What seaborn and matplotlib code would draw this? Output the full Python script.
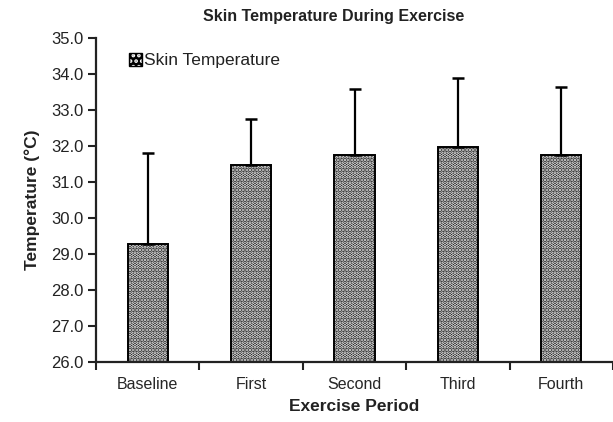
import matplotlib
matplotlib.use("Agg")
import matplotlib.pyplot as plt
from matplotlib.patches import Patch
import seaborn as sns
import pandas as pd

# values
periods = ["Baseline", "First", "Second", "Third", "Fourth"]
mean_temp = [29.27, 31.46, 31.75, 31.96, 31.75]
sd_temp = [2.53, 1.29, 1.83, 1.93, 1.89]
y_ticks = [26.0, 27.0, 28.0, 29.0, 30.0, 31.0, 32.0, 33.0, 34.0, 35.0]

df = pd.DataFrame({"period": periods, "temp": mean_temp, "sd": sd_temp})

sns.set_theme(style="ticks")
plt.rcParams["font.family"] = ["Liberation Sans", "DejaVu Sans"]
plt.rcParams["hatch.linewidth"] = 1.8

fig = plt.figure(figsize=(6.13, 4.22), dpi=100)
ax = fig.add_axes([96 / 613, 60 / 422, 1 - 96 / 613, 324 / 422])

sns.barplot(data=df, x="period", y="temp", color="black", width=0.39,
            edgecolor="black", linewidth=1.4, ax=ax)
# black bars with a white dot grid (checker look)
for p in ax.patches:
    p.set_hatch(".....")
    p._hatch_color = (1, 1, 1, 1)

ax.errorbar(range(len(periods)), df["temp"], yerr=[[0] * len(periods), df["sd"]],
            fmt="none", ecolor="black", elinewidth=1.6, capsize=4.5, capthick=1.8)

ax.set_ylim(26, 35)
ax.set_xlim(-0.5, 4.43)
ax.set_yticks(y_ticks)
ax.set_yticklabels([f"{t:.1f}" for t in y_ticks], fontsize=12)
ax.set_xticks(range(len(periods)))
ax.set_xticklabels(periods, fontsize=11.5)
ax.tick_params(axis="x", length=0, pad=11)
ax.set_xticks([i - 0.5 for i in range(len(periods) + 1)], minor=True)
ax.tick_params(axis="x", which="minor", length=5.5, width=1.5, color="#222222")
ax.tick_params(axis="y", length=6, width=1.5, color="#222222", pad=3, labelcolor="#222222")

for s in ["top", "right"]:
    ax.spines[s].set_visible(False)
for s in ["left", "bottom"]:
    ax.spines[s].set_linewidth(1.6)
    ax.spines[s].set_color("#222222")

ax.set_xlabel("Exercise Period", fontsize=12.5, fontweight="bold", labelpad=5, color="#222222")
ax.set_ylabel("Temperature (°C)", fontsize=12.5, fontweight="bold", labelpad=8, color="#222222")
fig.text(334 / 613, 1 - 17 / 422, "Skin Temperature During Exercise",
         ha="center", va="center", fontsize=11.5, fontweight="bold", color="#222222")

leg_patch = Patch(facecolor="black", edgecolor="black", hatch="...", label="Skin Temperature")
leg = ax.legend(handles=[leg_patch], loc="upper left", bbox_to_anchor=(0.05, 0.975),
                frameon=False, fontsize=12.5, handlelength=0.75, handleheight=0.75,
                handletextpad=0.15, borderaxespad=0, labelcolor="#222222")
for h in leg.legend_handles:
    h._hatch_color = (1, 1, 1, 1)

fig.savefig("out.png", dpi=100)
